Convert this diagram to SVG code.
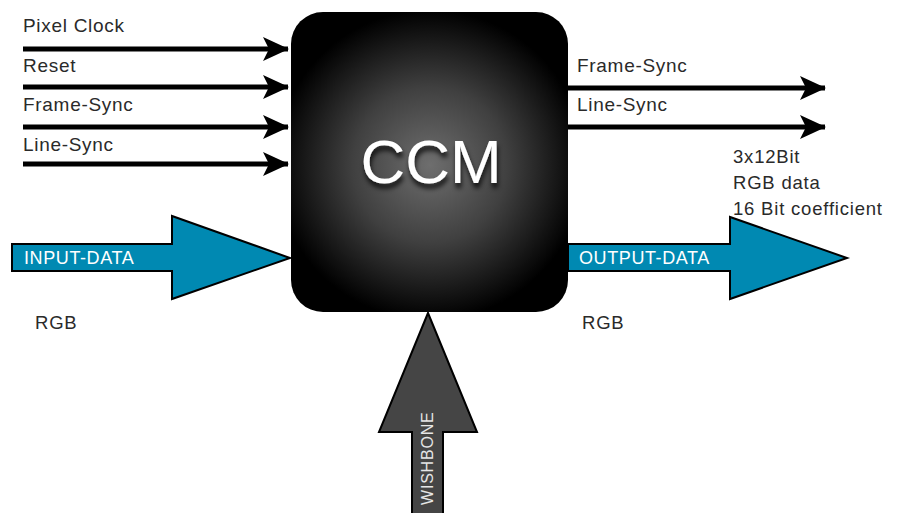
<svg xmlns="http://www.w3.org/2000/svg" width="901" height="513" viewBox="0 0 901 513">
  <defs>
    <radialGradient id="ccmFill" cx="430" cy="165" r="155" gradientUnits="userSpaceOnUse">
      <stop offset="0" stop-color="#6e6e6e"/>
      <stop offset="0.5" stop-color="#404040"/>
      <stop offset="1" stop-color="#000"/>
    </radialGradient>
    <filter id="textShadow" x="-20%" y="-20%" width="140%" height="160%">
      <feGaussianBlur in="SourceAlpha" stdDeviation="2.5"/>
      <feOffset dx="1" dy="5" result="b"/>
      <feFlood flood-color="#000" flood-opacity="0.8"/>
      <feComposite in2="b" operator="in"/>
      <feMerge><feMergeNode/><feMergeNode in="SourceGraphic"/></feMerge>
    </filter>
    <marker id="head" viewBox="0 0 26 26" refX="25" refY="13" markerWidth="26" markerHeight="26" markerUnits="userSpaceOnUse" orient="auto">
      <path d="M0,1 L26,13 L0,25 L6,13 Z" fill="#000"/>
    </marker>
  </defs>
  <style>
    .lbl { font-family: "Liberation Sans", Arial, sans-serif; font-size: 19px; letter-spacing: 0.7px; fill: #2a2a2a; }
    .note { font-family: "Liberation Sans", Arial, sans-serif; font-size: 18.5px; letter-spacing: 0.8px; fill: #2a2a2a; }
    .inner { font-family: "Liberation Sans", Arial, sans-serif; font-size: 18px; letter-spacing: 0.6px; fill: #fff; }
    .sig { stroke: #000; stroke-width: 5; fill: none; marker-end: url(#head); }
    .bus { fill: #0089b2; stroke: #000; stroke-width: 2; stroke-linejoin: miter; }
    .wb { fill: #454545; stroke: #000; stroke-width: 2; }
  </style>

  <rect width="901" height="513" fill="#fff"/>

  <!-- signal connectors -->
  <g id="connectors">
    <line class="sig" x1="23" y1="49" x2="288" y2="49"/>
    <line class="sig" x1="23" y1="87" x2="288" y2="87"/>
    <line class="sig" x1="23" y1="127" x2="288" y2="127"/>
    <line class="sig" x1="23" y1="164" x2="288" y2="164"/>
    <line class="sig" x1="566" y1="88" x2="825" y2="88"/>
    <line class="sig" x1="566" y1="127" x2="825" y2="127"/>
  </g>

  <!-- signal labels -->
  <g id="signal-labels">
    <text class="lbl" x="23" y="32">Pixel Clock</text>
    <text class="lbl" x="23" y="72">Reset</text>
    <text class="lbl" x="23" y="111">Frame-Sync</text>
    <text class="lbl" x="23" y="151">Line-Sync</text>
    <text class="lbl" x="577" y="72">Frame-Sync</text>
    <text class="lbl" x="577" y="111">Line-Sync</text>
  </g>

  <!-- input data bus -->
  <g id="input-data">
    <path class="bus" d="M12,244 L172,244 L172,216 L290,258 L172,299 L172,271 L12,271 Z"/>
    <text class="inner" x="24" y="264">INPUT-DATA</text>
    <text class="note" x="35" y="329">RGB</text>
  </g>

  <!-- output data bus -->
  <g id="output-data">
    <path class="bus" d="M568,244 L730,244 L730,217 L847,258 L730,299 L730,271 L568,271 Z"/>
    <text class="inner" x="579" y="264">OUTPUT-DATA</text>
    <text class="note" x="582" y="329">RGB</text>
    <text class="note" x="733" y="163">3x12Bit</text>
    <text class="note" x="733" y="189">RGB data</text>
    <text class="note" x="733" y="215">16 Bit coefficient</text>
  </g>

  <!-- wishbone bus -->
  <g id="wishbone">
    <path class="wb" d="M428,313 L477,432 L443,432 L443,515 L412,515 L412,432 L379,432 Z"/>
    <text class="inner" transform="translate(433,505) rotate(-90)" style="font-size:16px; letter-spacing:0.8px; fill:#e6e6e6">WISHBONE</text>
  </g>

  <!-- colour correction matrix block -->
  <g id="ccm">
    <rect x="291" y="12" width="277" height="300" rx="32" ry="32" fill="url(#ccmFill)"/>
    <text x="431" y="183" text-anchor="middle" filter="url(#textShadow)" style="font-family:'Liberation Sans', Arial, sans-serif; font-size:62px; fill:#fff">CCM</text>
  </g>
</svg>
